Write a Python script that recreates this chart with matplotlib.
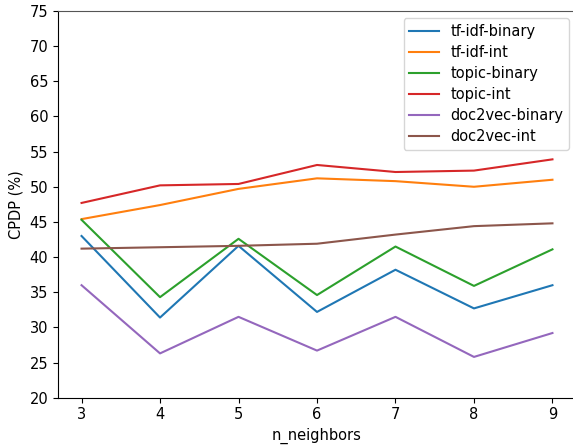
import matplotlib
matplotlib.use('Agg')
import matplotlib.pyplot as plt
import numpy as np

n_neighbors = [3, 4, 5, 6, 7, 8, 9]

tfidf_binary = [43.0, 31.4, 41.6, 32.2, 38.2, 32.7, 36.0]
tfidf_int = [45.4, 47.4, 49.7, 51.2, 50.8, 50.0, 51.0]
topic_binary = [45.3, 34.3, 42.6, 34.6, 41.5, 35.9, 41.1]
topic_int = [47.7, 50.2, 50.4, 53.1, 52.1, 52.3, 53.9]
doc2vec_binary = [36.0, 26.3, 31.5, 26.7, 31.5, 25.8, 29.2]
doc2vec_int = [41.2, 41.4, 41.6, 41.9, 43.2, 44.4, 44.8]

series = [
    ('tf-idf-binary', tfidf_binary),
    ('tf-idf-int', tfidf_int),
    ('topic-binary', topic_binary),
    ('topic-int', topic_int),
    ('doc2vec-binary', doc2vec_binary),
    ('doc2vec-int', doc2vec_int),
]

plt.rcParams['font.size'] = 10.5

fig = plt.figure(figsize=(5.73, 4.47), dpi=100)
ax = fig.add_axes([58 / 573, (447 - 397.7) / 447, (576 - 58) / 573, (397.7 - 11) / 447])

for name, vals in series:
    ax.plot(n_neighbors, vals, label=name)

ax.set_ylim(20, 75)
ax.set_yticks(np.arange(20, 76, 5))
ax.set_xticks(n_neighbors)
ax.set_xlabel('n_neighbors')
ax.set_ylabel('CPDP (%)')
ax.spines['right'].set_visible(False)
ax.spines['top'].set_color('#555555')
ax.legend(loc='upper right', bbox_to_anchor=(0.9865, 0.982), borderaxespad=0,
          fontsize=10.5, labelspacing=0.42)

fig.savefig('out.png', dpi=100)
